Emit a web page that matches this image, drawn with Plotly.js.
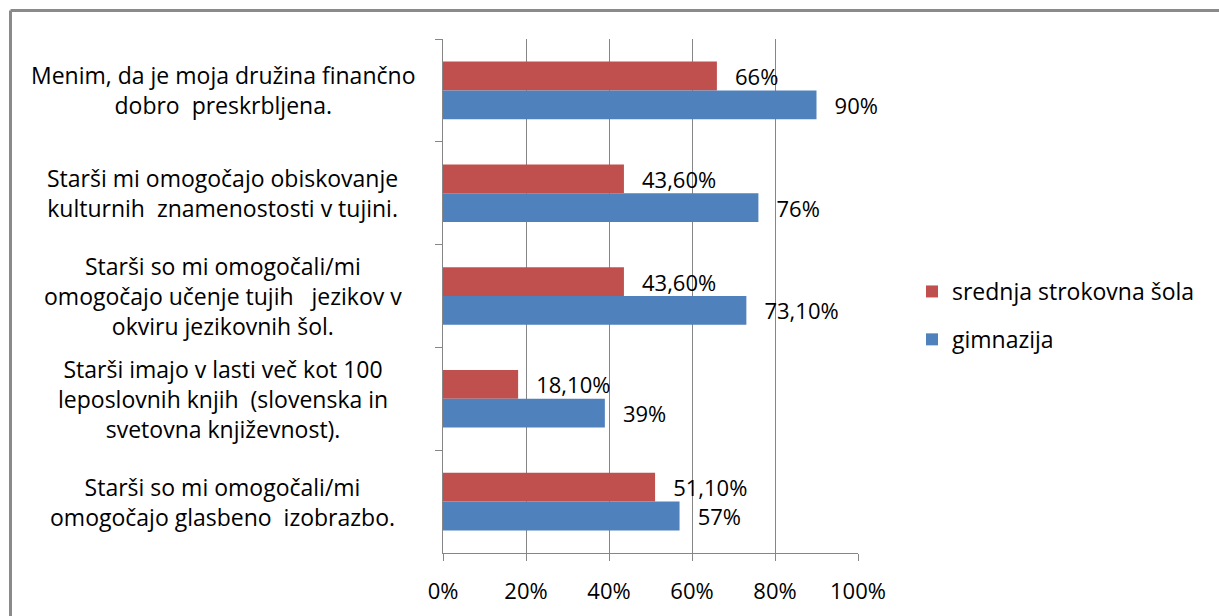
<!DOCTYPE html>
<html>
<head>
<meta charset="utf-8">
<script src="https://cdn.plot.ly/plotly-3.0.1.min.js"></script>
<style>
html,body{margin:0;padding:0;background:#fff;}
#chart{width:1219px;height:616px;}
</style>
</head>
<body>
<div id="chart"></div>
<script>
// Categories, top to bottom
const categories = [
  "Menim, da je moja družina finančno<br>dobro  preskrbljena.",
  "Starši mi omogočajo obiskovanje<br>kulturnih  znamenostosti v tujini.",
  "Starši so mi omogočali/mi<br>omogočajo učenje tujih   jezikov v<br>okviru jezikovnih šol.",
  "Starši imajo v lasti več kot 100<br>leposlovnih knjih  (slovenska in<br>svetovna književnost).",
  "Starši so mi omogočali/mi<br>omogočajo glasbeno  izobrazbo."
];
const catKeys = ["c1","c2","c3","c4","c5"];
const srednjaValues = [66, 43.6, 43.6, 18.1, 51.1];
const gimnazijaValues = [90, 76, 73.1, 39, 57];
const seriesNames = ["srednja strokovna šola", "gimnazija"];
const xTickVals = [0, 20, 40, 60, 80, 100];
const xTickText = ["0%", "20%", "40%", "60%", "80%", "100%"];

const FONT = "'Open Sans', 'Noto Sans', sans-serif";
const FS = 22;
const FS_BIG = 23;
const fmt = v => (Number.isInteger(v) ? String(v) : v.toFixed(2).replace('.', ',')) + '%';
const pad = '\u00a0\u00a0\u2009';

const traces = [
  {
    type: 'bar', orientation: 'h', name: seriesNames[0], legendgroup: 's',
    y: catKeys, x: srednjaValues,
    text: srednjaValues.map(v => pad + fmt(v)), textposition: 'outside', constraintext: 'none',
    textfont: {family: FONT, size: FS, color: '#000'}, cliponaxis: false,
    marker: {color: '#C0504D'}, hoverinfo: 'none'
  },
  {
    type: 'bar', orientation: 'h', name: seriesNames[1], legendgroup: 'g',
    y: catKeys, x: gimnazijaValues,
    text: gimnazijaValues.map(v => pad + fmt(v)), textposition: 'outside', constraintext: 'none',
    textfont: {family: FONT, size: FS, color: '#000'}, cliponaxis: false,
    marker: {color: '#4F81BD'}, hoverinfo: 'none'
  }
];

const L = 443, R = 858, T = 39, B = 553;
const annotations = categories.map((c, i) => ({
  xref: 'paper', yref: 'y', x: (223 - L) / (R - L), y: catKeys[i],
  xanchor: 'center', yanchor: 'middle', align: 'center', showarrow: false,
  text: c, font: {family: FONT, size: FS_BIG, color: '#000'}
}));

const layout = {
  width: 1219, height: 616,
  margin: {l: L, r: 1219 - R, t: T, b: 616 - B, pad: 0},
  paper_bgcolor: '#fff', plot_bgcolor: '#fff',
  barmode: 'group', bargap: 0.44, bargroupgap: 0,
  showlegend: true,
  legend: {
    x: (912 - L) / (R - L), y: 1 - (315.5 - T) / (B - T), xanchor: 'left', yanchor: 'middle',
    traceorder: 'grouped', tracegroupgap: 15,
    font: {family: FONT, size: FS_BIG, color: '#000'}, bgcolor: 'rgba(0,0,0,0)'
  },
  xaxis: {
    range: [0, 100], tickvals: xTickVals, ticktext: xTickText,
    showgrid: true, gridcolor: '#868686', gridwidth: 1, zeroline: false,
    showline: true, linecolor: '#868686', linewidth: 1,
    ticks: 'outside', ticklen: 7, tickcolor: '#868686', ticklabelstandoff: 12,
    tickfont: {family: FONT, size: FS, color: '#000'}, fixedrange: true
  },
  yaxis: {
    type: 'category', autorange: 'reversed', showticklabels: false,
    showline: true, linecolor: '#868686', linewidth: 1,
    ticks: 'outside', ticklen: 7, tickcolor: '#868686', tickson: 'boundaries',
    showgrid: false, zeroline: false, fixedrange: true
  },
  annotations: annotations,
  shapes: [
    {type: 'line', xref: 'paper', yref: 'paper', x0: (10.5 - L) / (R - L), x1: (1230 - L) / (R - L),
     y0: 1 + (T - 10.5) / (B - T), y1: 1 + (T - 10.5) / (B - T), line: {color: '#8a8a8a', width: 3}},
    {type: 'line', xref: 'paper', yref: 'paper', x0: (10.5 - L) / (R - L), x1: (10.5 - L) / (R - L),
     y0: 1 + (T - 10.5) / (B - T), y1: -(630 - B) / (B - T), line: {color: '#8a8a8a', width: 3}}
  ]
};

Plotly.newPlot('chart', traces, layout, {displayModeBar: false, staticPlot: true});
</script>
</body>
</html>
